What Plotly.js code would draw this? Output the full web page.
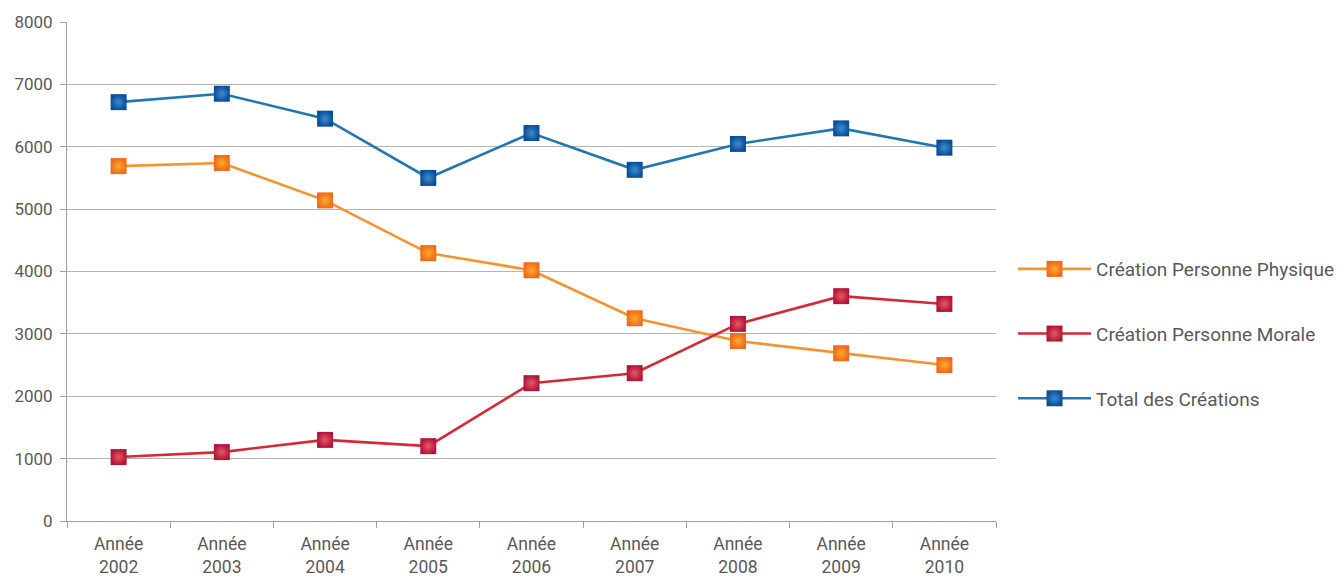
<!DOCTYPE html>
<html><head><meta charset="utf-8">
<script src="https://cdn.plot.ly/plotly-3.0.1.min.js"></script>
<style>html,body{margin:0;padding:0;background:#fff;}#chart{width:1343px;height:576px;}</style>
</head><body><div id="chart"></div>
<script>
const years = ["Année<br>2002","Année<br>2003","Année<br>2004","Année<br>2005","Année<br>2006","Année<br>2007","Année<br>2008","Année<br>2009","Année<br>2010"];
const physique = [5690,5740,5140,4295,4020,3250,2885,2690,2500];
const morale = [1025,1105,1300,1200,2210,2370,3160,3605,3480];
const total = [6715,6850,6450,5500,6220,5630,6045,6295,5985];
const names = ["Création Personne Physique","Création Personne Morale","Total des Créations"];

function tr(y, name, lineColor, edge, center, g){
  return {x: years, y: y, name: name, type:'scatter', mode:'lines+markers', legendgroup:g,
    line:{color: lineColor, width:2.6},
    marker:{symbol:'square', size:16, color: edge, gradient:{type:'radial', color: center}, line:{width:0}}};
}
const data = [
  tr(physique, names[0], '#f7922e', '#f06a1a', '#fbaa2a', 'a'),
  tr(morale, names[1], '#d42a35', '#b3153a', '#e45a63', 'b'),
  tr(total, names[2], '#1f78b4', '#0a4f96', '#3d8bd0', 'c')
];
const fam = 'Roboto, sans-serif';
const layout = {
  width:1343, height:576,
  margin:{l:67, r:347, t:22, b:55},
  paper_bgcolor:'#fff', plot_bgcolor:'#fff',
  font: {family:fam, size:17, color:'#595959'},
  showlegend:true,
  legend:{xref:'container', yref:'container', x:0.7543, y:0.4201, xanchor:'left', yanchor:'middle',
    traceorder:'grouped', tracegroupgap:37, font:{family:fam, size:19, color:'#595959'}, itemwidth:73},
  xaxis:{type:'category', range:[-0.5,8.5], tickson:'boundaries', ticks:'outside', ticklen:6, tickcolor:'#a0a0a0',
    showline:true, linecolor:'#a0a0a0', linewidth:1, showgrid:false, ticklabelstandoff:7,
    tickfont:{family:fam, size:17.5, color:'#595959'}, fixedrange:true},
  yaxis:{range:[0,8000], dtick:1000, ticks:'outside', ticklen:6, tickcolor:'#a0a0a0',
    showline:true, linecolor:'#a0a0a0', linewidth:1, gridcolor:'#b4b4b4', gridwidth:1, zeroline:false,
    ticklabelstandoff:4, tickfont:{family:fam, size:17, color:'#595959'}, tickformat:'d', fixedrange:true}
};
Plotly.newPlot('chart', data, layout, {displayModeBar:false, staticPlot:true});
</script></body></html>
